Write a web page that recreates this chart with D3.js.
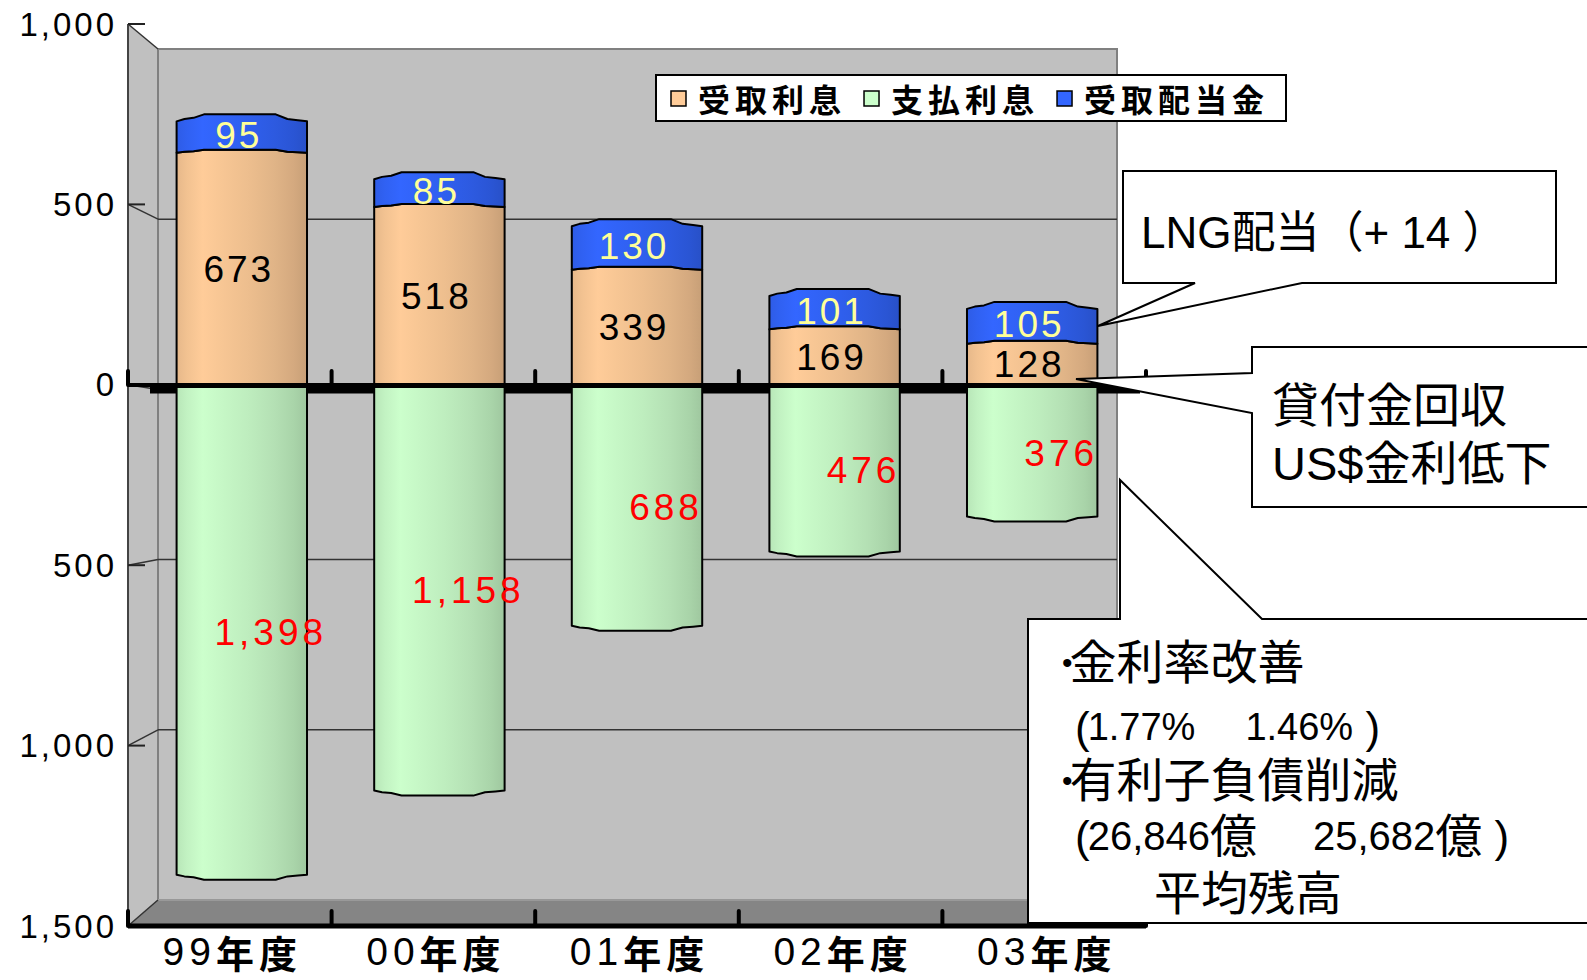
<!DOCTYPE html>
<html>
<head>
<meta charset="utf-8">
<script src="https://cdn.jsdelivr.net/npm/d3@7"></script>
<style>
  html, body { margin: 0; background: #fff; }
  svg { display: block; }
</style>
</head>
<body>
<div id="chart"></div>
<script>
// values (units: 億円)
const categories = ["99年度", "00年度", "01年度", "02年度", "03年度"];
const received = [673, 518, 339, 169, 128];   // 受取利息
const paid = [1398, 1158, 688, 476, 376];      // 支払利息 (drawn downward)
const dividends = [95, 85, 130, 101, 105];     // 受取配当金
const seriesNames = ["受取利息", "支払利息", "受取配当金"];
const seriesColors = ["#ffcc99", "#ccffcc", "#3366ff"];
const yTicks = [1000, 500, 0, -500, -1000, -1500];

const W = 1587, H = 980;
const FONT = "'Liberation Sans', Arial, 'Noto Sans CJK JP', sans-serif";

const svg = d3.select("#chart").append("svg")
  .attr("width", W).attr("height", H)
  .style("font-family", FONT);

// 3D box: front plane, back wall, bars sit half way between
const yFront = d3.scaleLinear().domain([1000, -1500]).range([24, 926]);
const yBack = d3.scaleLinear().domain([1000, -1500]).range([49, 900]);
const yBar = d3.scaleLinear().domain([1000, -1500]).range([36.5, 913]);
const xFront = d3.scaleBand().domain(categories).range([128, 1146]);
const xBar = d3.scaleBand().domain(categories).range([143, 1131])
  .paddingInner(0.34).paddingOuter(0.17);
const backL = 158, backR = 1117;

// gradients (cylinder-like shading)
const defs = svg.append("defs");
const shadeStops = [[0, 0.9], [0.08, 0.95], [0.2, 1], [0.35, 0.97], [0.55, 0.93], [0.75, 0.88], [0.9, 0.83], [1, 0.78]];
function shade(hex, k) {
  const c = d3.rgb(hex);
  return d3.rgb(c.r * k, c.g * k, c.b * k).formatHex();
}
seriesColors.forEach((col, i) => {
  const g = defs.append("linearGradient").attr("id", "grad" + i)
    .attr("x1", 0).attr("x2", 1).attr("y1", 0).attr("y2", 0);
  shadeStops.forEach(([o, k]) => g.append("stop").attr("offset", o).attr("stop-color", shade(col, k)));
});

// walls
svg.append("polygon")
  .attr("points", [[128, yFront(1000)], [backL, yBack(1000)], [backL, yBack(-1500)], [128, yFront(-1500)]].join(" "))
  .attr("fill", "#c0c0c0");
svg.append("rect")
  .attr("x", backL).attr("y", yBack(1000))
  .attr("width", backR - backL).attr("height", yBack(-1500) - yBack(1000))
  .attr("fill", "#c0c0c0").attr("stroke", "#808080").attr("stroke-width", 2);
svg.append("polygon")
  .attr("points", [[128, yFront(-1500)], [backL, yBack(-1500)], [backR, yBack(-1500)], [1146, yFront(-1500)]].join(" "))
  .attr("fill", "#858585").attr("stroke", "#a0a0a0").attr("stroke-width", 1.5);

// gridlines on back wall + side wall diagonals
svg.append("g").selectAll("line.grid")
  .data(yTicks.filter(d => d !== 1000 && d !== -1500))
  .join("line")
  .attr("x1", backL).attr("x2", backR)
  .attr("y1", d => yBack(d)).attr("y2", d => yBack(d))
  .attr("stroke", "#333").attr("stroke-width", 1.5);
svg.append("g").selectAll("line")
  .data(yTicks)
  .join("line")
  .attr("x1", 128).attr("y1", d => yFront(d))
  .attr("x2", backL).attr("y2", d => yBack(d))
  .attr("stroke", "#333").attr("stroke-width", 1.5);

// y axis
svg.append("line")
  .attr("x1", 128).attr("x2", 128)
  .attr("y1", yFront(1000)).attr("y2", yFront(-1500))
  .attr("stroke", "#444").attr("stroke-width", 2);
svg.append("g").selectAll("line")
  .data(yTicks)
  .join("line")
  .attr("x1", 128).attr("x2", 145)
  .attr("y1", d => yFront(d)).attr("y2", d => yFront(d))
  .attr("stroke", "#222").attr("stroke-width", 2);
svg.append("g").selectAll("text")
  .data(yTicks)
  .join("text")
  .attr("x", 117).attr("y", d => yFront(d))
  .attr("text-anchor", "end").attr("dominant-baseline", "central")
  .attr("font-size", 33).attr("letter-spacing", 3)
  .text(d => d3.format(",")(Math.abs(d)));

// zero floor band behind bars
svg.append("line")
  .attr("x1", 150).attr("x2", 1140)
  .attr("y1", 390).attr("y2", 390)
  .attr("stroke", "#000").attr("stroke-width", 7);

// bars
const prof = [[0, 1], [0.06, 0.67], [0.13, 0.5], [0.21, 0], [0.76, 0], [0.85, 0.67], [0.93, 0.83], [1, 1]];
function edge(x0, w, yv, b) {
  return prof.map(([t, p]) => [x0 + t * w, yv - b / 2 + b * p]);
}
function segPath(x0, w, yTop, bTop, yBot, bBot) {
  const top = edge(x0, w, yTop, bTop);
  const bot = edge(x0, w, yBot, bBot).reverse();
  return d3.line()([...top, ...bot]) + "Z";
}

const bw = xBar.bandwidth();
const bars = svg.append("g").selectAll("g")
  .data(categories)
  .join("g");

// 支払利息 (down)
bars.append("path")
  .attr("d", (c, i) => segPath(xBar(c), bw, yBar(0), 0, yBar(-paid[i]), -5))
  .attr("fill", "url(#grad1)").attr("stroke", "#000").attr("stroke-width", 2).attr("stroke-linejoin", "round");
// 受取利息
bars.append("path")
  .attr("d", (c, i) => segPath(xBar(c), bw, yBar(received[i]), 3, yBar(0), 0))
  .attr("fill", "url(#grad0)").attr("stroke", "#000").attr("stroke-width", 2).attr("stroke-linejoin", "round");
// 受取配当金
bars.append("path")
  .attr("d", (c, i) => segPath(xBar(c), bw, yBar(received[i] + dividends[i]), 7, yBar(received[i]), 3))
  .attr("fill", "url(#grad2)").attr("stroke", "#000").attr("stroke-width", 2).attr("stroke-linejoin", "round");

// zero axis line in front
svg.append("line")
  .attr("x1", 128).attr("x2", 1146)
  .attr("y1", 385).attr("y2", 385)
  .attr("stroke", "#000").attr("stroke-width", 4);

// category ticks at zero line and at bottom
const bounds = [128].concat(categories.map(c => xFront(c) + xFront.bandwidth()));
svg.append("g").selectAll("line")
  .data(bounds)
  .join("line")
  .attr("x1", d => d).attr("x2", d => d)
  .attr("y1", 371).attr("y2", 385)
  .attr("stroke", "#000").attr("stroke-width", 4).attr("stroke-linecap", "round");
svg.append("g").selectAll("line")
  .data(bounds)
  .join("line")
  .attr("x1", d => d).attr("x2", d => d)
  .attr("y1", 911).attr("y2", 926)
  .attr("stroke", "#000").attr("stroke-width", 4).attr("stroke-linecap", "round");
svg.append("line")
  .attr("x1", 128).attr("x2", 1146)
  .attr("y1", yFront(-1500)).attr("y2", yFront(-1500))
  .attr("stroke", "#000").attr("stroke-width", 5);

// value labels
const lblSize = 37, ls = 3;
const cx = c => xBar(c) + bw / 2 - 3;
bars.append("text")
  .attr("x", cx)
  .attr("y", (c, i) => (yBar(received[i]) + yBar(0)) / 2)
  .attr("text-anchor", "middle").attr("dominant-baseline", "central")
  .attr("font-size", lblSize).attr("letter-spacing", ls).attr("fill", "#000")
  .text((c, i) => received[i]);
bars.append("text")
  .attr("x", cx)
  .attr("y", (c, i) => (yBar(received[i] + dividends[i]) + yBar(received[i])) / 2 + 1)
  .attr("text-anchor", "middle").attr("dominant-baseline", "central")
  .attr("font-size", lblSize).attr("letter-spacing", ls).attr("fill", "#ffff99")
  .text((c, i) => dividends[i]);
bars.append("text")
  .attr("x", c => cx(c) + 32)
  .attr("y", (c, i) => (yBar(0) + yBar(-paid[i])) / 2)
  .attr("text-anchor", "middle").attr("dominant-baseline", "central")
  .attr("font-size", lblSize).attr("letter-spacing", 4).attr("fill", "#ff0000")
  .text((c, i) => d3.format(",")(paid[i]));

// category labels
const catText = svg.append("g").selectAll("text")
  .data(categories)
  .join("text")
  .attr("x", c => xFront(c) + xFront.bandwidth() / 2 + 2.5)
  .attr("y", 951)
  .attr("text-anchor", "middle").attr("dominant-baseline", "central")
  .attr("font-size", 38).attr("letter-spacing", 5);
catText.append("tspan").attr("font-size", 39).text(c => c.replace(/[^0-9]/g, ""));
catText.append("tspan").attr("font-weight", "bold").attr("font-family", "'Noto Sans CJK JP'")
  .text(c => c.replace(/[0-9]/g, ""));

// legend
const lg = svg.append("g");
lg.append("rect").attr("x", 656).attr("y", 75).attr("width", 630).attr("height", 46)
  .attr("fill", "#fff").attr("stroke", "#000").attr("stroke-width", 2);
let lx = 671;
seriesNames.forEach((name, i) => {
  lg.append("rect").attr("x", lx).attr("y", 91).attr("width", 15).attr("height", 15)
    .attr("fill", seriesColors[i]).attr("stroke", "#000").attr("stroke-width", 1.5);
  const t = lg.append("text").attr("x", lx + 27).attr("y", 98)
    .attr("dominant-baseline", "central")
    .attr("font-size", 32).attr("font-weight", "bold").attr("letter-spacing", 5)
    .attr("font-family", "'Noto Sans CJK JP'")
    .text(name);
  lx = lx + 27 + t.node().getComputedTextLength() + 18;
});

// callouts
const callouts = svg.append("g").attr("fill", "#fff").attr("stroke", "#000").attr("stroke-width", 2);
callouts.append("path")
  .attr("d", "M1123,171 L1556,171 L1556,283 L1302,283 L1098,326 L1195,283 L1123,283 Z");
callouts.append("path")
  .attr("d", "M1252,347 L1600,347 L1600,507 L1252,507 L1252,413 L1076,379 L1252,373 Z");
callouts.append("path")
  .attr("d", "M1028,619 L1120,619 L1120,480 L1262,619 L1600,619 L1600,923 L1028,923 Z");

function note(x, y, size, parts) {
  const t = svg.append("text").attr("x", x).attr("y", y)
    .attr("dominant-baseline", "central").attr("font-size", size);
  parts.forEach(p => {
    const s = t.append("tspan").text(p.t);
    if (p.size) s.attr("font-size", p.size);
    if (p.dx) s.attr("dx", p.dx);
  });
  return t;
}
note(1141, 232, 44, [{ t: "LNG配当（+ 14 ）" }]);
note(1272, 405, 47, [{ t: "貸付金回収" }]);
note(1272, 463, 47, [{ t: "US$金利低下" }]);
note(1062, 662, 47, [{ t: "•", size: 30 }, { t: "金利率改善", dx: -3 }]);
note(1075, 727, 44, [{ t: "(" }, { t: "1.77%", size: 38, dx: -2 }, { t: "1.46%", size: 38, dx: 50 }, { t: " )" }]);
note(1062, 780, 47, [{ t: "•", size: 30 }, { t: "有利子負債削減", dx: -3 }]);
note(1075, 836, 44, [{ t: "(" }, { t: "26,846", size: 40, dx: -2 }, { t: "億", size: 47 }, { t: "25,682", size: 40, dx: 56 }, { t: "億", size: 47 }, { t: " )" }]);
note(1154, 893, 47, [{ t: "平均残高" }]);
</script>
</body>
</html>
